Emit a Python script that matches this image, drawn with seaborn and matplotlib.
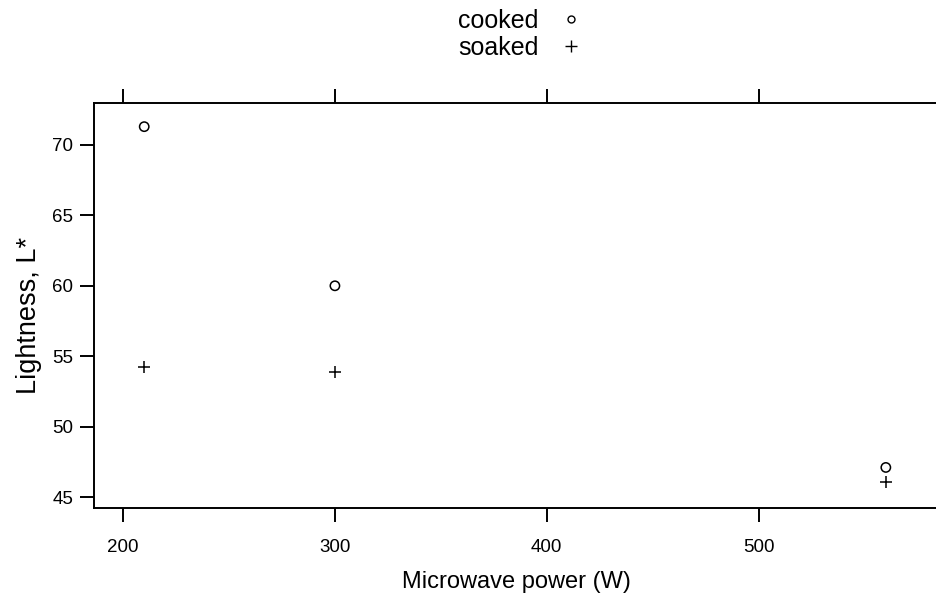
import matplotlib
matplotlib.use("Agg")
import matplotlib.pyplot as plt
from matplotlib.lines import Line2D
import seaborn as sns
import pandas as pd

# Microwave power (W) and measured lightness L* for each treatment
power = [210, 300, 560]
cooked = [71.3, 60.0, 47.1]
soaked = [54.2, 53.9, 46.1]
x_ticks = [200, 300, 400, 500]
y_ticks = [45, 50, 55, 60, 65, 70]

df = pd.DataFrame({
    "power": power * 2,
    "lightness": cooked + soaked,
    "state": ["cooked"] * len(power) + ["soaked"] * len(power),
})

sns.set_theme(style="white")
plt.rcParams["font.family"] = ["Liberation Sans", "DejaVu Sans"]
plt.rcParams["text.color"] = "black"
plt.rcParams["axes.labelcolor"] = "black"

fig = plt.figure(figsize=(9.36, 6.0), dpi=100)
ax = fig.add_axes([94 / 936, 92 / 600, 1.003 - 94 / 936, 405 / 600])

sns.scatterplot(data=df[df.state == "cooked"], x="power", y="lightness",
                marker="o", s=45, facecolors="none", edgecolor="black",
                linewidth=1.1, ax=ax, legend=False)
sns.scatterplot(data=df[df.state == "soaked"], x="power", y="lightness",
                marker="+", s=85, color="black", linewidth=1.1,
                ax=ax, legend=False)

ax.set_xlim(186.3, 585)
ax.set_ylim(44.22, 72.98)
ax.set_xticks(x_ticks)
ax.set_yticks(y_ticks)
ax.tick_params(axis="both", direction="out", length=10, width=1.4,
               color="black", labelsize=13.5, labelcolor="black")
ax.tick_params(axis="x", top=True, labeltop=False, bottom=True, pad=12)
ax.tick_params(axis="y", left=True, right=False, pad=5)
for side in ["left", "bottom", "top", "right"]:
    ax.spines[side].set_color("black")
    ax.spines[side].set_linewidth(1.4)

ax.set_xlabel("Microwave power (W)", fontsize=17, labelpad=11)
ax.set_ylabel("Lightness, L*", fontsize=19.5, labelpad=7)
ax.yaxis.label.set_y(0.475)

handles = [
    Line2D([], [], marker="o", linestyle="none", markerfacecolor="none",
           markeredgecolor="black", markersize=5, markeredgewidth=1.0),
    Line2D([], [], marker="+", linestyle="none", color="black",
           markersize=8, markeredgewidth=1.0),
]
fig.legend(handles, ["cooked", "soaked"], loc="upper left",
           bbox_to_anchor=(458 / 936, 1 - 9 / 600), frameon=False,
           markerfirst=False, fontsize=18, handlelength=1.0,
           handletextpad=0.8, labelspacing=0.12, borderpad=0,
           borderaxespad=0)

fig.savefig("out.png", dpi=100, facecolor="white")
